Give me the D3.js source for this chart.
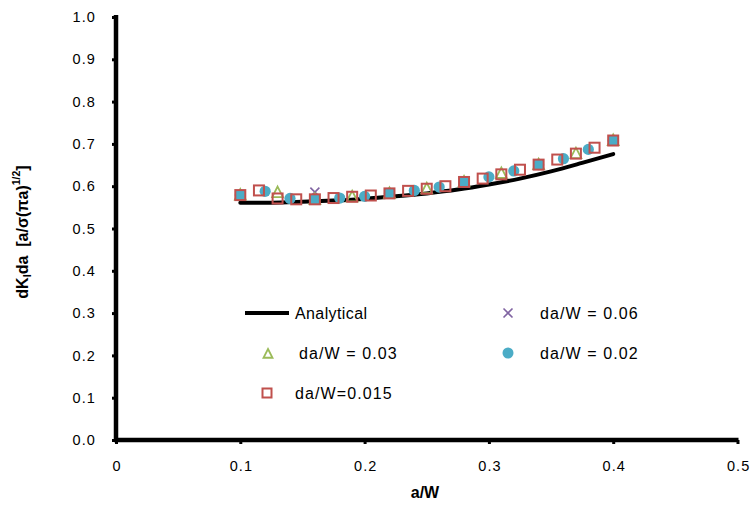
<!DOCTYPE html>
<html>
<head>
<meta charset="utf-8">
<script src="https://cdn.jsdelivr.net/npm/d3@7"></script>
<style>
  html, body { margin: 0; padding: 0; background: #fff; }
  svg { display: block; font-family: "Liberation Sans", Arial, sans-serif; }
  text { white-space: pre; }
</style>
</head>
<body>
<svg id="chart" width="752" height="508"></svg>
<script>
// Normalised stress-intensity gradient versus crack length ratio a/W
const xTicks = [0, 0.1, 0.2, 0.3, 0.4, 0.5];
const xTickLabels = ["0", "0.1", "0.2", "0.3", "0.4", "0.5"];
const yTicks = [0, 0.1, 0.2, 0.3, 0.4, 0.5, 0.6, 0.7, 0.8, 0.9, 1.0];

// Analytical solution
const analyticalA = [0.1, 0.125, 0.15, 0.175, 0.2, 0.225, 0.25, 0.275, 0.3, 0.325, 0.35, 0.375, 0.4];
const analyticalV = [0.561, 0.561, 0.563, 0.566, 0.570, 0.576, 0.583, 0.592, 0.604, 0.618, 0.635, 0.655, 0.676];

// da/W = 0.06
const d06A = [0.1, 0.16, 0.22, 0.28, 0.34, 0.4];
const d06V = [0.579, 0.586, 0.583, 0.610, 0.651, 0.708];

// da/W = 0.03
const d03A = [0.1, 0.13, 0.16, 0.19, 0.22, 0.25, 0.28, 0.31, 0.34, 0.37, 0.4];
const d03V = [0.579, 0.585, 0.569, 0.575, 0.583, 0.594, 0.610, 0.630, 0.651, 0.677, 0.708];

// da/W = 0.02
const d02A = [0.1, 0.12, 0.14, 0.16, 0.18, 0.2, 0.22, 0.24, 0.26, 0.28, 0.3, 0.32, 0.34, 0.36, 0.38, 0.4];
const d02V = [0.579, 0.588, 0.571, 0.569, 0.572, 0.576, 0.583, 0.590, 0.598, 0.610, 0.622, 0.636, 0.651, 0.665, 0.687, 0.708];

// da/W = 0.015
const d015A = [0.1, 0.115, 0.13, 0.145, 0.16, 0.175, 0.19, 0.205, 0.22, 0.235, 0.25, 0.265, 0.28, 0.295, 0.31, 0.325, 0.34, 0.355, 0.37, 0.385, 0.4];
const d015V = [0.579, 0.590, 0.571, 0.569, 0.569, 0.572, 0.575, 0.578, 0.583, 0.589, 0.594, 0.600, 0.610, 0.618, 0.628, 0.639, 0.651, 0.663, 0.677, 0.691, 0.708];

const COL_X = "#8064A2", COL_TRI = "#9BBB59", COL_CIR = "#4BACC6", COL_SQ = "#C0504D";

const svg = d3.select("#chart");
const x = d3.scaleLinear().domain([0, 0.5]).range([116, 737.5]);
const y = d3.scaleLinear().domain([0, 1]).range([440, 17]);

const zip = (a, v) => a.map((d, i) => ({ a: d, v: v[i] }));

// Axes
const xAxis = d3.axisBottom(x).tickValues(xTicks).tickSize(4).tickFormat((d, i) => xTickLabels[i]);
const gx = svg.append("g").attr("transform", "translate(0,440)").call(xAxis);
gx.select(".domain").remove();
gx.selectAll(".tick line").attr("stroke", "#000").attr("stroke-width", 3);
gx.selectAll(".tick text").attr("y", 21).attr("font-size", 14.5).attr("fill", "#000")
  .attr("letter-spacing", 1.1).attr("dx", 0.6)
  .attr("font-family", "Liberation Sans, Arial, sans-serif");

const yAxis = d3.axisLeft(y).tickValues(yTicks).tickSize(4).tickFormat(d3.format(".1f"));
const gy = svg.append("g").attr("transform", "translate(116,0)").call(yAxis);
gy.select(".domain").remove();
gy.selectAll(".tick line").attr("stroke", "#000").attr("stroke-width", 3);
gy.selectAll(".tick text").attr("x", -20).attr("font-size", 14.5).attr("fill", "#000")
  .attr("letter-spacing", 1.1)
  .attr("font-family", "Liberation Sans, Arial, sans-serif");

// Thick axis lines
svg.append("line").attr("x1", x(0)).attr("x2", x(0)).attr("y1", y(1) - 2).attr("y2", y(0) + 2)
  .attr("stroke", "#000").attr("stroke-width", 4.5);
svg.append("line").attr("x1", x(0) - 2).attr("x2", x(0.5) + 1).attr("y1", y(0)).attr("y2", y(0))
  .attr("stroke", "#000").attr("stroke-width", 4.5);

// Analytical curve
const line = d3.line().x(d => x(d.a)).y(d => y(d.v)).curve(d3.curveMonotoneX);
svg.append("path").datum(zip(analyticalA, analyticalV)).attr("d", line)
  .attr("fill", "none").attr("stroke", "#000").attr("stroke-width", 4).attr("stroke-linecap", "round");

// Marker shapes
function drawX(g, cx, cy, s) {
  g.append("path").attr("d", `M${cx - s},${cy - s}L${cx + s},${cy + s}M${cx - s},${cy + s}L${cx + s},${cy - s}`)
    .attr("stroke", COL_X).attr("stroke-width", 1.6).attr("fill", "none");
}
function drawTri(g, cx, cy, s) {
  g.append("path").attr("d", `M${cx},${cy - s}L${cx + s * 0.9},${cy + s * 0.75}L${cx - s * 0.9},${cy + s * 0.75}Z`)
    .attr("stroke", COL_TRI).attr("stroke-width", 1.8).attr("fill", "none");
}
function drawCir(g, cx, cy, r) {
  g.append("circle").attr("cx", cx).attr("cy", cy).attr("r", r).attr("fill", COL_CIR);
}
function drawSq(g, cx, cy, s) {
  g.append("rect").attr("x", cx - s).attr("y", cy - s).attr("width", 2 * s).attr("height", 2 * s)
    .attr("stroke", COL_SQ).attr("stroke-width", 2).attr("fill", "none");
}

const marks = svg.append("g");
zip(d06A, d06V).forEach(d => drawX(marks, x(d.a), y(d.v), 4.5));
zip(d03A, d03V).forEach(d => drawTri(marks, x(d.a), y(d.v), 6));
zip(d02A, d02V).forEach(d => drawCir(marks, x(d.a), y(d.v), 5.6));
zip(d015A, d015V).forEach(d => drawSq(marks, x(d.a), y(d.v), 5));

// Legend
const lg = svg.append("g").attr("font-size", 16).attr("fill", "#000");
lg.append("line").attr("x1", 245).attr("x2", 289).attr("y1", 313).attr("y2", 313)
  .attr("stroke", "#000").attr("stroke-width", 4);
lg.append("text").attr("x", 295).attr("y", 319).attr("letter-spacing", 0.4).text("Analytical");
drawX(lg, 508, 313, 4.5);
lg.append("text").attr("x", 540).attr("y", 319).attr("letter-spacing", 1.1).text("da/W = 0.06");
drawTri(lg, 268, 354, 5);
lg.append("text").attr("x", 299).attr("y", 359).attr("letter-spacing", 1.1).text("da/W = 0.03");
drawCir(lg, 508, 353, 5.5);
lg.append("text").attr("x", 540).attr("y", 359).attr("letter-spacing", 1.1).text("da/W = 0.02");
drawSq(lg, 267, 393, 4.5);
lg.append("text").attr("x", 295).attr("y", 399).attr("letter-spacing", 1.1).text("da/W=0.015");

// Axis titles
svg.append("text").attr("x", 425).attr("y", 498).attr("text-anchor", "middle")
  .attr("font-size", 16).attr("font-weight", "bold").text("a/W");

const yt = svg.append("text").attr("transform", "translate(28,232) rotate(-90)")
  .attr("text-anchor", "middle").attr("font-size", 16).attr("font-weight", "bold");
yt.append("tspan").text("dK");
yt.append("tspan").attr("font-size", 11).attr("dy", 3).text("I");
yt.append("tspan").attr("dy", -3).text("da  [a/σ(πa)");
yt.append("tspan").attr("font-size", 10.5).attr("dy", -8).text("1/2");
yt.append("tspan").attr("dy", 8).text("]");
</script>
</body>
</html>
